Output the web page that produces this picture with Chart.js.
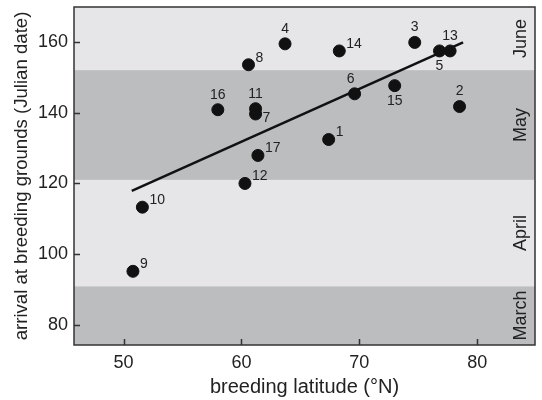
<!DOCTYPE html>
<html lang="en">
<head>
  <meta charset="UTF-8">
  <title>Arrival date vs breeding latitude</title>
  <script src="https://cdn.jsdelivr.net/npm/chart.js"></script>
  <style>
    body {
      margin: 0;
      padding: 0;
      background: #fff;
    }
    .chart-box {
      width: 542px;
      height: 400px;
    }
  </style>
</head>
<body>
  <div class="chart-box">
    <canvas id="arrivalChart" width="542" height="400"></canvas>
  </div>

  <script>
    // Species numbers, breeding latitude (°N), arrival (Julian day)
    const species = ['1', '2', '3', '4', '5', '6', '7', '8', '9', '10', '11', '12', '13', '14', '15', '16', '17'];
    const latitude = [67.4, 78.5, 74.7, 63.7, 76.8, 69.6, 61.2, 60.6, 50.8, 51.6, 61.2, 60.3, 77.7, 68.3, 73.0, 58.0, 61.4];
    const arrival = [132.4, 141.7, 159.8, 159.4, 157.4, 145.3, 139.6, 153.5, 95.2, 113.3, 141.1, 120.0, 157.4, 157.4, 147.6, 140.8, 127.9];

    // Regression line end points
    const fitLat = [50.7, 78.8];
    const fitDay = [117.9, 159.8];

    // Month bands (first Julian day of each month)
    const months = ['March', 'April', 'May', 'June'];
    const monthStart = [60, 91, 121, 152];
    const monthEnd = [90, 120, 151, 181];

    const xTicks = [50, 60, 70, 80];
    const yTicks = [80, 100, 120, 140, 160];

    const FONT = '"Liberation Sans", Arial, sans-serif';
    const INK = '#222';

    // where each number sits relative to its dot
    const labelSpot = {
      '2': 'n', '3': 'n', '4': 'n', '6': 'n', '11': 'n', '13': 'n', '16': 'n',
      '5': 's', '15': 's',
      '7': 'e'
    };

    // no extra room for edge tick labels, the box is fixed
    function noPad(scale) {
      scale.paddingTop = 0;
      scale.paddingBottom = 0;
      scale.paddingLeft = 0;
      scale.paddingRight = 0;
    }

    const bandsPlugin = {
      id: 'bands',
      beforeDatasetsDraw(chart) {
        const { ctx, chartArea: a, scales: { y } } = chart;
        ctx.save();
        ctx.beginPath();
        ctx.rect(a.left, a.top, a.right - a.left, a.bottom - a.top);
        ctx.clip();
        months.forEach((m, i) => {
          const top = y.getPixelForValue(monthEnd[i] + 1);
          const bot = y.getPixelForValue(monthStart[i]);
          ctx.fillStyle = i % 2 === 0 ? '#bcbdbf' : '#e6e6e8';
          ctx.fillRect(a.left, top, a.right - a.left, bot - top);
        });
        ctx.restore();

        // month names, centred in the visible part of each band
        ctx.save();
        ctx.fillStyle = INK;
        ctx.font = '18px ' + FONT;
        ctx.textAlign = 'center';
        ctx.textBaseline = 'middle';
        months.forEach((m, i) => {
          const top = Math.max(a.top, y.getPixelForValue(monthEnd[i] + 1));
          const bot = Math.min(a.bottom, y.getPixelForValue(monthStart[i]));
          ctx.save();
          ctx.translate(a.right - 14, (top + bot) / 2);
          ctx.rotate(-Math.PI / 2);
          ctx.fillText(m, 0, 0);
          ctx.restore();
        });
        ctx.restore();
      },
      afterDraw(chart) {
        const { ctx, chartArea: a, scales: { x, y } } = chart;
        ctx.save();
        ctx.strokeStyle = '#333';
        ctx.lineWidth = 1.5;
        ctx.beginPath();
        // inward tick marks
        xTicks.forEach(v => {
          const px = Math.round(x.getPixelForValue(v)) + 0.5;
          ctx.moveTo(px, a.bottom);
          ctx.lineTo(px, a.bottom - 6);
        });
        yTicks.forEach(v => {
          const py = Math.round(y.getPixelForValue(v)) + 0.5;
          ctx.moveTo(a.left, py);
          ctx.lineTo(a.left + 6, py);
        });
        ctx.stroke();
        ctx.strokeRect(a.left, a.top, a.right - a.left, a.bottom - a.top);
        ctx.restore();

        // species numbers
        const meta = chart.getDatasetMeta(0);
        ctx.save();
        ctx.fillStyle = INK;
        ctx.font = '14px ' + FONT;
        meta.data.forEach((pt, i) => {
          const name = species[i];
          const spot = labelSpot[name] || 'ne';
          if (spot === 'n') {
            ctx.textAlign = 'center';
            ctx.textBaseline = 'middle';
            ctx.fillText(name, pt.x + (name === '6' ? -4 : 0), pt.y - 15);
          } else if (spot === 's') {
            ctx.textAlign = 'center';
            ctx.textBaseline = 'middle';
            ctx.fillText(name, pt.x, pt.y + 15);
          } else if (spot === 'e') {
            ctx.textAlign = 'left';
            ctx.textBaseline = 'middle';
            ctx.fillText(name, pt.x + 7, pt.y + 4);
          } else {
            ctx.textAlign = 'left';
            ctx.textBaseline = 'middle';
            ctx.fillText(name, pt.x + 7, pt.y - 7);
          }
        });
        ctx.restore();
      }
    };

    const ctx = document.getElementById('arrivalChart').getContext('2d');
    new Chart(ctx, {
      type: 'scatter',
      data: {
        datasets: [
          {
            label: 'species',
            data: latitude.map((v, i) => ({ x: v, y: arrival[i] })),
            backgroundColor: '#111',
            borderColor: '#111',
            pointRadius: 6,
            order: 1
          },
          {
            label: 'fit',
            type: 'line',
            data: fitLat.map((v, i) => ({ x: v, y: fitDay[i] })),
            borderColor: '#111',
            borderWidth: 2.5,
            pointRadius: 0,
            fill: false,
            order: 2
          }
        ]
      },
      options: {
        responsive: false,
        animation: false,
        layout: { padding: { top: 5, right: 5, left: 0, bottom: 0 } },
        plugins: {
          legend: { display: false },
          tooltip: { enabled: false }
        },
        scales: {
          x: {
            type: 'linear',
            min: 45.8,
            max: 84.9,
            afterFit(scale) { scale.height = 55; noPad(scale); },
            afterBuildTicks(scale) { scale.ticks = xTicks.map(v => ({ value: v })); },
            grid: { display: false, drawTicks: false },
            border: { display: false },
            ticks: {
              padding: 7,
              color: INK,
              font: { family: FONT, size: 18 }
            },
            title: {
              display: true,
              text: 'breeding latitude (°N)',
              color: INK,
              font: { family: FONT, size: 20 },
              padding: { top: 0, bottom: 1 }
            }
          },
          y: {
            type: 'linear',
            min: 74.4,
            max: 169.8,
            afterFit(scale) { scale.width = 74; noPad(scale); },
            afterBuildTicks(scale) { scale.ticks = yTicks.map(v => ({ value: v })); },
            grid: { display: false, drawTicks: false },
            border: { display: false },
            ticks: {
              padding: 6,
              color: INK,
              font: { family: FONT, size: 18 }
            },
            title: {
              display: true,
              text: 'arrival at breeding grounds (Julian date)',
              color: INK,
              font: { family: FONT, size: 18.6 },
              padding: { top: 11, bottom: 0 }
            }
          }
        }
      },
      plugins: [bandsPlugin]
    });
  </script>
</body>
</html>
